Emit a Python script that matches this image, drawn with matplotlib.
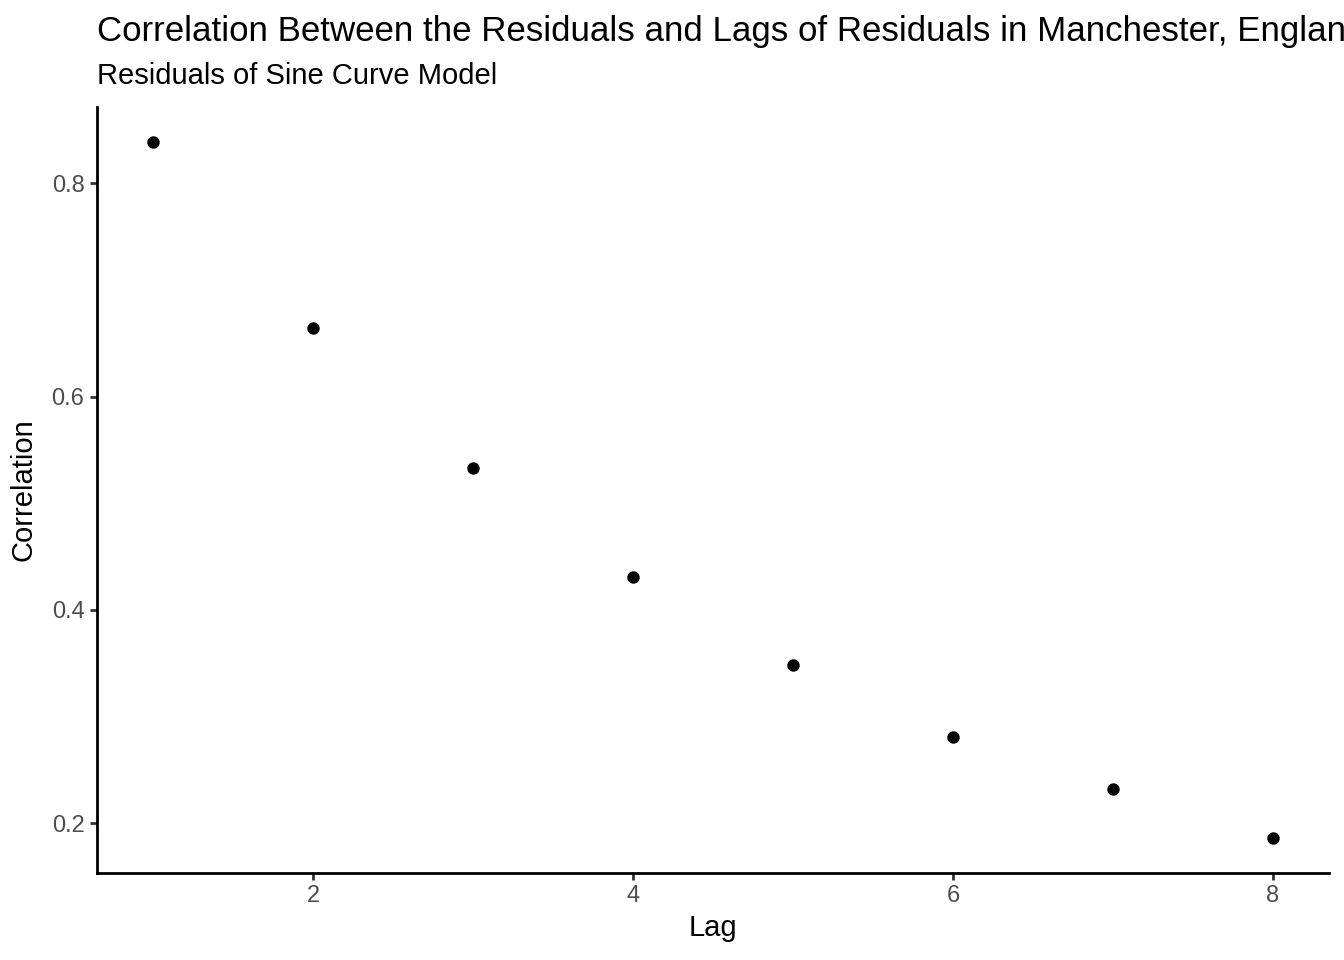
import matplotlib
matplotlib.use('Agg')
import matplotlib.pyplot as plt

# correlation of residuals with their lags
lags = [1, 2, 3, 4, 5, 6, 7, 8]
correlations = [0.839, 0.664, 0.533, 0.431, 0.348, 0.2805, 0.232, 0.186]

title = 'Correlation Between the Residuals and Lags of Residuals in Manchester, England'
subtitle = 'Residuals of Sine Curve Model'

plt.rcParams['font.family'] = ['Liberation Sans', 'DejaVu Sans']

W, H = 1344, 960
fig = plt.figure(figsize=(W / 100, H / 100), dpi=100)
ax = fig.add_axes([97 / W, 1 - 873 / H, (1329 - 97) / W, (873 - 107) / H])

ax.scatter(lags, correlations, s=80, color='black', linewidths=0, zorder=3)

xr = max(lags) - min(lags)
ax.set_xlim(min(lags) - 0.05 * xr, max(lags) + 0.05 * xr)
yr = max(correlations) - min(correlations)
ax.set_ylim(min(correlations) - 0.05 * yr, max(correlations) + 0.05 * yr)

ax.set_xticks([2, 4, 6, 8])
ax.set_xticklabels(['2', '4', '6', '8'])
ax.set_yticks([0.2, 0.4, 0.6, 0.8])
ax.set_yticklabels(['0.2', '0.4', '0.6', '0.8'])

for side in ['top', 'right']:
    ax.spines[side].set_visible(False)
for side in ['left', 'bottom']:
    ax.spines[side].set_linewidth(2)
    ax.spines[side].set_color('black')

ax.tick_params(axis='both', length=5, width=2, color='#333333',
               labelsize=17, labelcolor='#4D4D4D', pad=4)

ax.set_xlabel('Lag', fontsize=21, labelpad=5)
ax.set_ylabel('Correlation', fontsize=21, labelpad=10)

fig.text(97 / W, 1 - 41 / H, title, fontsize=25.15, ha='left', va='baseline')
fig.text(97 / W, 1 - 84 / H, subtitle, fontsize=21, ha='left', va='baseline')

fig.savefig('out.png', dpi=100)
